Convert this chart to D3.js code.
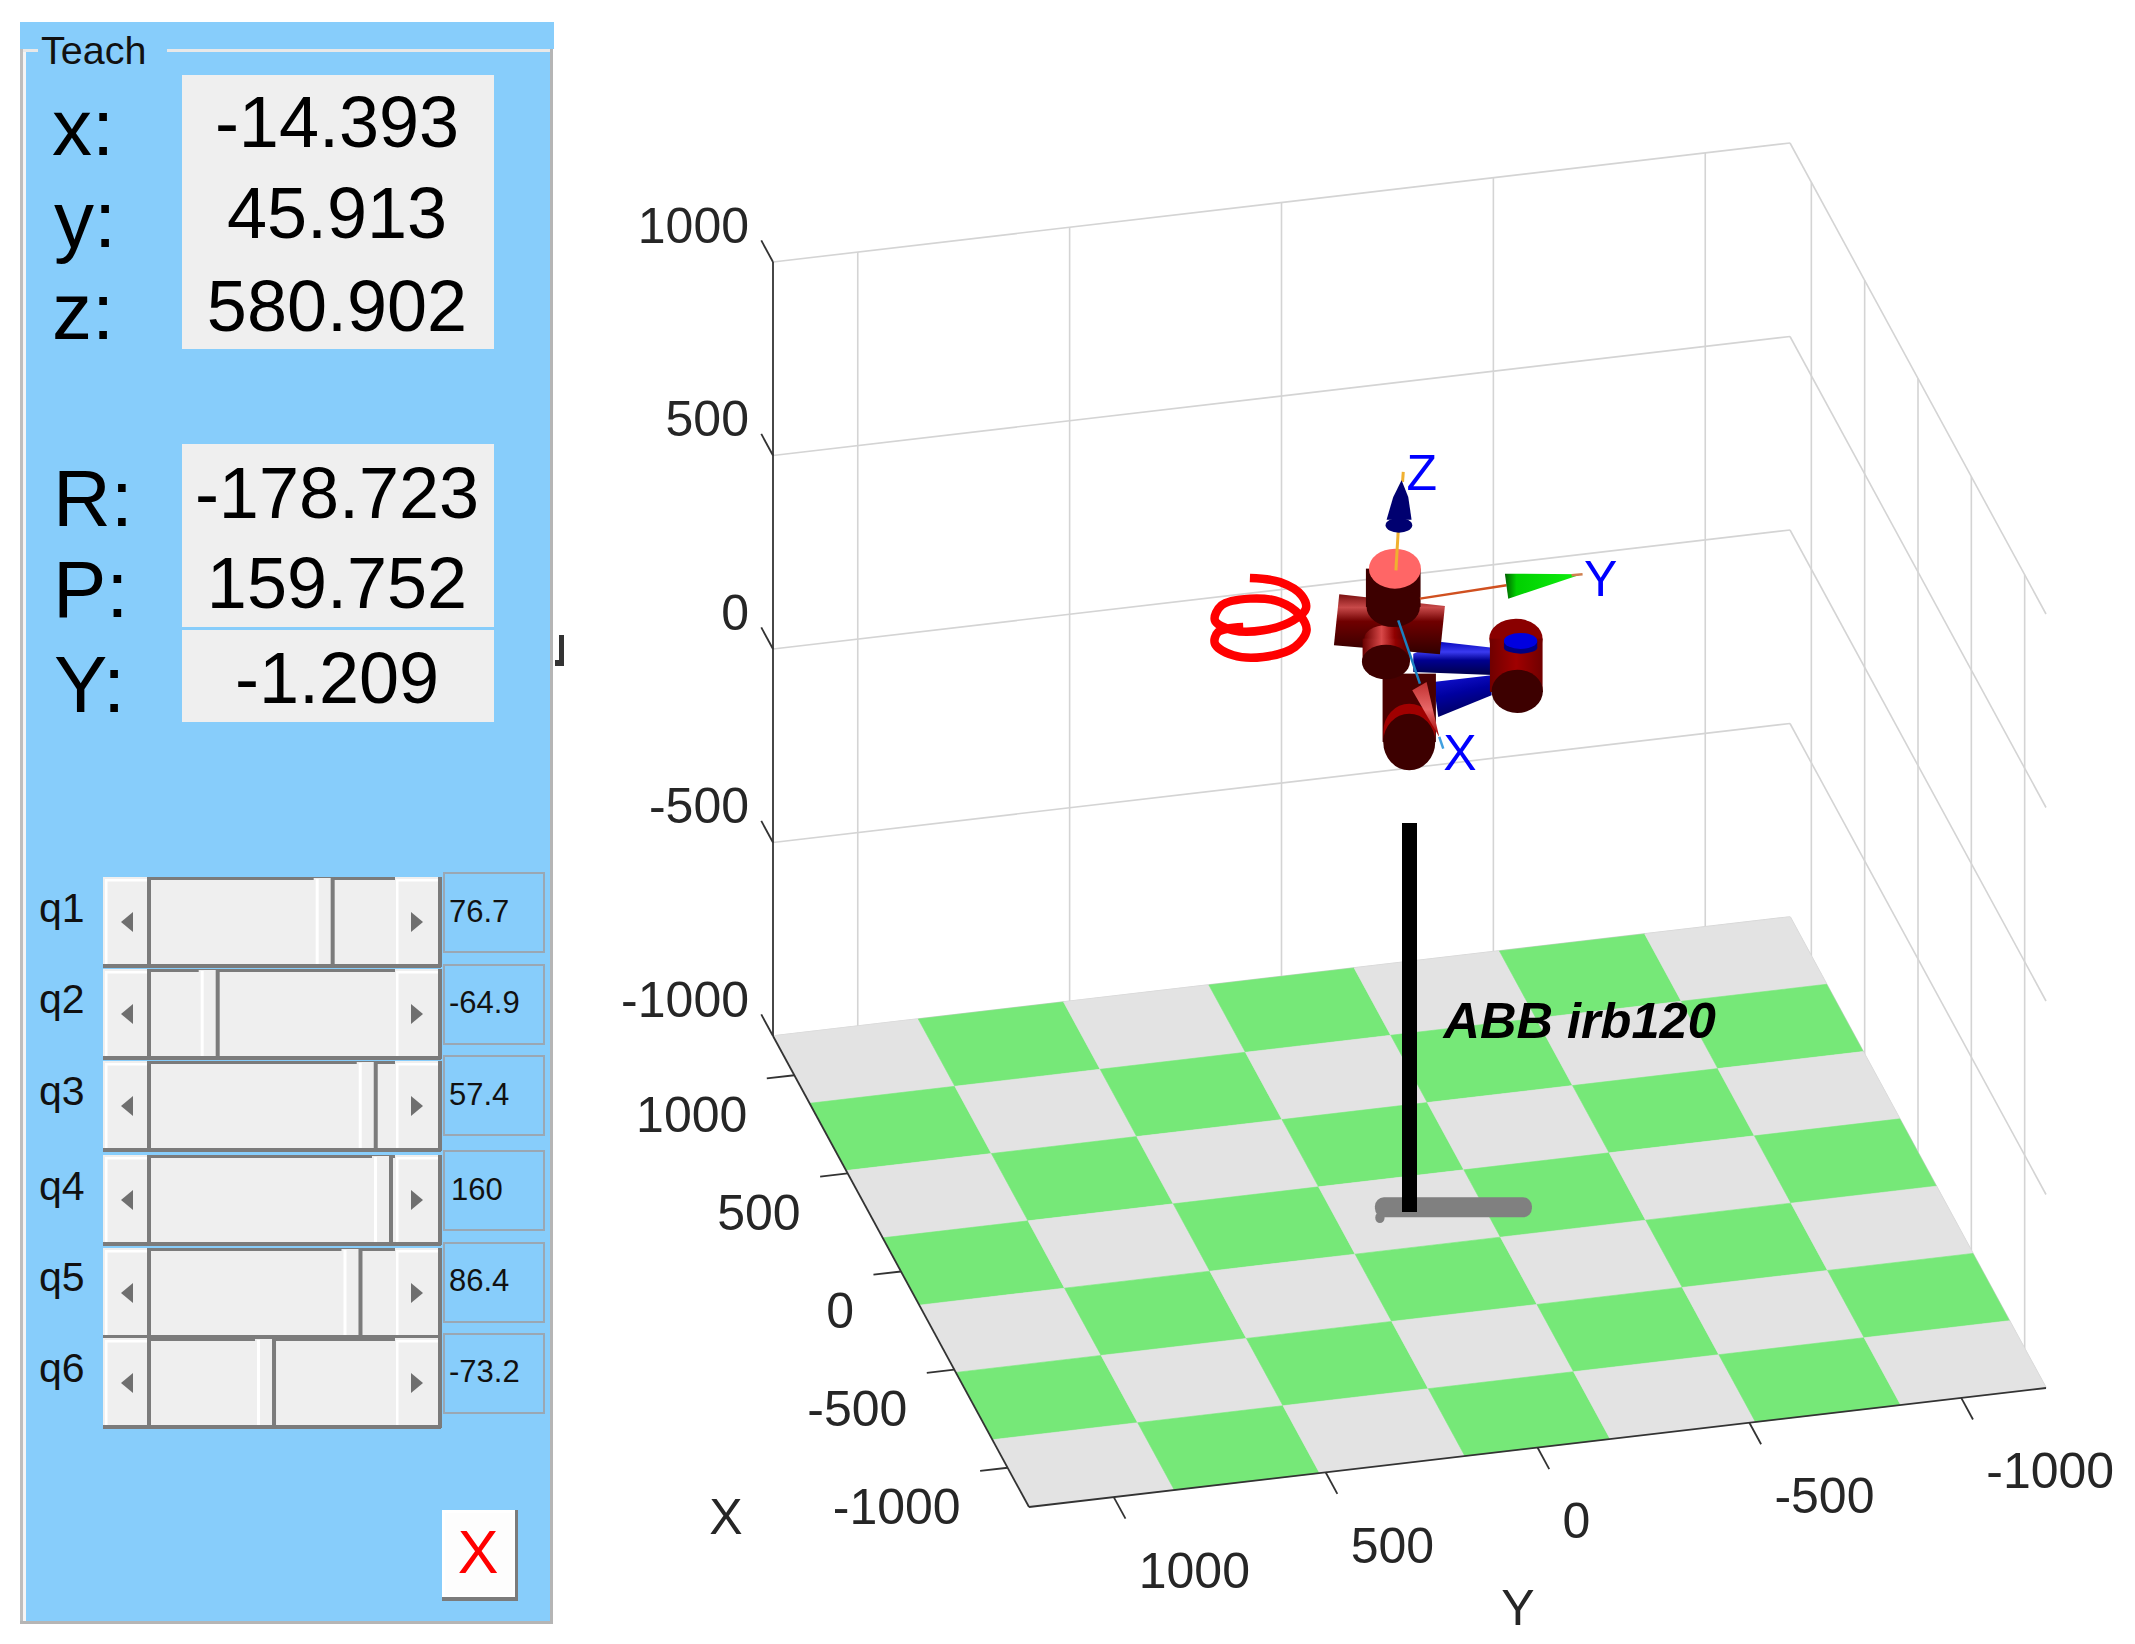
<!DOCTYPE html>
<html>
<head>
<meta charset="utf-8">
<style>
	html, body { margin: 0; padding: 0; background: #fff; }
	svg { display: block; }
	text { font-family: "Liberation Sans", Arial, sans-serif; }
</style>
<script src="https://cdn.jsdelivr.net/npm/d3@7"></script>
</head>
<body>
<svg id="chart" width="2135" height="1644"></svg>
<script>
// tool pose shown in the panel
var poseNames = ['x:', 'y:', 'z:', 'R:', 'P:', 'Y:'];
var poseValues = [-14.393, 45.913, 580.902, -178.723, 159.752, -1.209];

// joints and their slider limits
var jointNames = ['q1', 'q2', 'q3', 'q4', 'q5', 'q6'];
var jointValues = [76.7, -64.9, 57.4, 160, 86.4, -73.2];
var jointMin = [-165, -110, -110, -160, -120, -1000];
var jointMax = [165, 110, 70, 160, 120, 1000];

// axis ticks
var xTicks = [1000, 500, 0, -500, -1000];
var yTicks = [1000, 500, 0, -500, -1000];
var zTicks = [1000, 500, 0, -500, -1000];
var floorCells = d3.range(7);

// traced robot outlines, model frame pinned to the tool point
var spiral = [[210,443],[300,455],[365,495],[378,535],[340,570],[250,600],[160,600],[105,570],[125,525],[210,505],[300,515],[360,555],[380,600],[345,650],[250,680],[160,675],[105,640],[115,605],[190,590]];
var blueUpper = [[785,635],[965,655],[960,735],[700,725],[700,670]];
var blueLower = [[760,755],[935,735],[935,795],[775,860]];
var shoulder = [[478,492],[795,527],[780,672],[462,645]];
var zCone = [[665,150],[640,200],[620,268],[695,268],[685,200]];
var yCone = [[1205,432],[975,430],[985,505]];
var xCone = [[778,920],[697,780],[740,755]];

var svg = d3.select('#chart');
var defs = svg.append('defs');

function addGradient(id, x2, y2, stops) {
	var g = defs.append('linearGradient').attr('id', id)
		.attr('x1', 0).attr('y1', 0).attr('x2', x2).attr('y2', y2);
	stops.forEach(function(s) {
		g.append('stop').attr('offset', s[0]).attr('stop-color', s[1]);
	});
}
addGradient('blueBar', 0, 1, [[0, '#0a0ac0'], [0.3, '#3a3af0'], [0.55, '#000090'], [1, '#000048']]);
addGradient('blueBar2', 0.3, 1, [[0, '#1414d8'], [0.5, '#0000a0'], [1, '#000060']]);
addGradient('shoulderBar', 0, 1, [[0, '#7a1010'], [0.22, '#c84a4a'], [0.45, '#700000'], [1, '#300000']]);
addGradient('foreArm', 1, 0, [[0, '#6a0000'], [0.4, '#d84848'], [0.7, '#900000'], [1, '#500000']]);
addGradient('wristBody', 1, 0, [[0, '#700000'], [0.5, '#a00000'], [1, '#700000']]);
addGradient('greenCone', 1, 0, [[0, '#006000'], [0.15, '#00d000'], [1, '#10f010']]);
addGradient('redCone', 0, 1, [[0, '#c03030'], [0.5, '#e86868'], [1, '#a00000']]);

// ---------- 3D axes, orthographic view ----------
var xT = d3.scaleLinear().domain([1200, -1200]).range([0, 1]);
var yT = d3.scaleLinear().domain([1200, -1200]).range([0, 1]);
var zT = d3.scaleLinear().domain([-1000, 1000]).range([0, 1]);

function project(x, y, z) {
	return [
		773 + xT(x) * 256 + yT(y) * 1017,
		1036 + xT(x) * 471 - yT(y) * 119 - zT(z) * 774
	];
}

function segment(parent, a, b, color, width) {
	return parent.append('line')
		.attr('x1', a[0]).attr('y1', a[1])
		.attr('x2', b[0]).attr('y2', b[1])
		.attr('stroke', color).attr('stroke-width', width);
}

var plot = svg.append('g');
var gridColor = '#d4d4d4';

// back wall and side wall
yTicks.forEach(function(y) {
	segment(plot, project(1200, y, -1000), project(1200, y, 1000), gridColor, 1.6);
});
xTicks.forEach(function(x) {
	segment(plot, project(x, -1200, -1000), project(x, -1200, 1000), gridColor, 1.6);
});
zTicks.forEach(function(z) {
	segment(plot, project(1200, 1200, z), project(1200, -1200, z), gridColor, 1.6);
	segment(plot, project(1200, -1200, z), project(-1200, -1200, z), gridColor, 1.6);
});

// checkered floor
var cellX = d3.scaleLinear().domain([0, 7]).range([1200, -1200]);
var cellY = d3.scaleLinear().domain([0, 7]).range([1200, -1200]);
floorCells.forEach(function(i) {
	floorCells.forEach(function(j) {
		var pts = [
			project(cellX(i), cellY(j), -1000),
			project(cellX(i), cellY(j + 1), -1000),
			project(cellX(i + 1), cellY(j + 1), -1000),
			project(cellX(i + 1), cellY(j), -1000)
		];
		var color = (i + j) % 2 ? '#76e878' : '#e3e3e3';
		plot.append('polygon').attr('points', pts.join(' '))
			.attr('fill', color).attr('stroke', color).attr('stroke-width', 0.6);
	});
});

// axis lines, ticks and labels
var axisColor = '#333';
var labelColor = '#262626';
segment(plot, project(1200, 1200, -1000), project(1200, 1200, 1000), axisColor, 1.8);
segment(plot, project(1200, 1200, -1000), project(-1200, 1200, -1000), axisColor, 1.8);
segment(plot, project(-1200, 1200, -1000), project(-1200, -1200, -1000), axisColor, 1.8);

function tickLabel(text, pos, dx, dy, anchor) {
	plot.append('text')
		.attr('x', pos[0] + dx).attr('y', pos[1] + dy)
		.attr('dy', '.35em')
		.attr('text-anchor', anchor)
		.attr('font-size', 50)
		.attr('fill', labelColor)
		.text(text);
}

zTicks.forEach(function(z) {
	var p = project(1200, 1200, z);
	segment(plot, p, project(1310, 1200, z), axisColor, 1.8);
	tickLabel(String(z), p, -24, -37, 'end');
});
xTicks.forEach(function(x) {
	var p = project(x, 1200, -1000);
	segment(plot, p, project(x, 1265, -1000), axisColor, 1.8);
	tickLabel(String(x), p, -47, 39, 'end');
});
yTicks.forEach(function(y) {
	var p = project(-1200, y, -1000);
	segment(plot, p, project(-1310, y, -1000), axisColor, 1.8);
	tickLabel(String(y), p, 25, 73, 'start');
});
tickLabel('X', [726, 1516], 0, 0, 'middle');
tickLabel('Y', [1518, 1607], 0, 0, 'middle');

// ---------- robot ----------
var tool = project(poseValues[0], poseValues[1], poseValues[2]);
var mx = d3.scaleLinear().domain([635, 935]).range([tool[0], tool[0] + 100]);
var my = d3.scaleLinear().domain([525, 825]).range([tool[1], tool[1] + 100]);
var robot = svg.append('g');

function mapPts(pts) {
	return pts.map(function(p) { return [mx(p[0]), my(p[1])]; });
}
function poly(pts, fill) {
	robot.append('polygon').attr('points', mapPts(pts).join(' ')).attr('fill', fill);
}
function ell(cx, cy, rx, ry, fill) {
	robot.append('ellipse')
		.attr('cx', mx(cx)).attr('cy', my(cy))
		.attr('rx', rx / 3).attr('ry', ry / 3)
		.attr('fill', fill);
}
function bar(x0, y0, x1, y1, fill) {
	return robot.append('rect')
		.attr('x', mx(x0)).attr('y', my(y0))
		.attr('width', mx(x1) - mx(x0)).attr('height', my(y1) - my(y0))
		.attr('fill', fill);
}
function triadLine(a, b, color, width) {
	var m = mapPts([a, b]);
	segment(robot, m[0], m[1], color, width);
}

// pole and foot
bar(585, 2301, 1056, 2361, '#808080').attr('rx', 9);
ell(600, 2362, 14, 16, '#808080');
segment(robot, project(0, 0, -1000), project(0, 0, 5), '#000', 15);
robot.append('text')
	.attr('x', project(0, 0, -550)[0] + 34)
	.attr('y', project(0, 0, -550)[1])
	.attr('font-size', 50.5)
	.attr('font-weight', 'bold')
	.attr('font-style', 'italic')
	.attr('fill', '#000')
	.text('ABB irb120');

// trajectory
robot.append('path')
	.attr('d', d3.line().curve(d3.curveCatmullRom)(mapPts(spiral)))
	.attr('fill', 'none').attr('stroke', '#f00').attr('stroke-width', 8.5);

poly(blueUpper, 'url(#blueBar)');
poly(blueLower, 'url(#blueBar2)');

// wrist
ell(1008, 625, 80, 60, '#8a0000');
bar(930, 625, 1088, 785, 'url(#wristBody)');
ell(1012, 783, 77, 65, '#3d0000');
bar(972, 632, 1072, 652, '#000080');
ell(1022, 652, 50, 18, '#000080');
ell(1022, 632, 50, 24, '#0000e0');

// lower arm
bar(608, 730, 768, 935, '#4a0000');
ell(688, 905, 78, 85, '#a00000');
ell(688, 935, 78, 85, '#3d0000');

// shoulder and upper joint
poly(shoulder, 'url(#shoulderBar)');
ell(618, 625, 65, 40, 'url(#foreArm)');
bar(548, 625, 690, 695, 'url(#foreArm)');
ell(618, 695, 72, 52, '#3d0000');
bar(558, 415, 722, 530, '#3d0000');
ell(640, 530, 80, 60, '#3d0000');
ell(645, 415, 78, 60, '#ff6666');

// tool frame
triadLine([648, 420], [655, 300], '#f0b030', 3);
triadLine([670, 125], [668, 155], '#f0b030', 3);
poly(zCone, '#000070');
ell(657, 285, 40, 22, '#000070');
triadLine([720, 505], [980, 465], '#d05020', 2.5);
poly(yCone, 'url(#greenCone)');
triadLine([1175, 435], [1208, 432], '#d08050', 2.5);
triadLine([655, 570], [720, 760], '#1a80c0', 2.5);
poly(xCone, 'url(#redCone)');
triadLine([778, 920], [790, 955], '#40a0e0', 2.5);

[['Z', 680, 178], ['Y', 1212, 497], ['X', 790, 1020]].forEach(function(d) {
	robot.append('text')
		.attr('x', mx(d[1])).attr('y', my(d[2]))
		.attr('font-size', 50).attr('fill', '#00f')
		.text(d[0]);
});

// ---------- teach panel ----------
var panel = svg.append('g');
var panelBlue = '#87cdfb';

function rect(x, y, w, h, fill) {
	return panel.append('rect')
		.attr('x', x).attr('y', y)
		.attr('width', w).attr('height', h)
		.attr('fill', fill);
}
function label(text, x, y, size, anchor, color) {
	return panel.append('text')
		.attr('x', x).attr('y', y)
		.attr('font-size', size)
		.attr('text-anchor', anchor || 'start')
		.attr('fill', color || '#000')
		.text(text);
}

rect(20, 22, 534, 27, panelBlue);
rect(23, 49, 528, 1573, panelBlue);
rect(20, 49, 3, 1575, '#bdbdbd');
rect(23, 49, 3, 1573, '#f4f4f4');
rect(23, 49, 528, 3, '#e8e8e8');
rect(550, 49, 3, 1575, '#b5b5b5');
rect(20, 1621, 533, 3, '#b5b5b5');
rect(38, 40, 129, 14, panelBlue);
label('Teach', 41, 64, 39.5, 'start', '#111');

// pose readouts
rect(182, 75, 312, 274, '#efefef');
rect(182, 444, 312, 183, '#efefef');
rect(182, 630, 312, 92, '#efefef');
var poseLabelX = [52, 54, 52, 53, 53, 54];
var poseLabelBase = [155, 247, 339, 526, 617, 712];
var poseValueBase = [147, 238, 331, 518, 608, 703];
poseNames.forEach(function(name, i) {
	label(name, poseLabelX[i], poseLabelBase[i], 80);
	label(poseValues[i].toFixed(3), 337, poseValueBase[i], 72, 'middle');
});

// stray glyph next to the panel
rect(559, 635, 5, 31, '#333');
rect(555, 660, 9, 6, '#333');

// joint sliders
var sliderTops = [877, 969, 1061, 1155, 1248, 1338];
var boxTops = [872, 964, 1055, 1150, 1242, 1333];
var sliderBase = [922, 1013, 1105, 1200, 1291, 1382];
var shade = '#7b7b7b';

function arrow(points) {
	panel.append('polygon').attr('points', points.join(' ')).attr('fill', '#6f6f6f');
}

jointNames.forEach(function(name, i) {
	var top = sliderTops[i];
	var thumb = d3.scaleLinear().domain([jointMin[i], jointMax[i]]).range([153, 371]);
	var tx = thumb(jointValues[i]);
	var mid = top + 45;

	label(name, 39, sliderBase[i], 41, 'start', '#111');

	rect(103, top, 338, 90, '#efefef');
	rect(150, top, 245, 3, shade);
	rect(103, top + 87, 338, 4, shade);
	// end buttons
	rect(105, top + 2, 44, 2.5, '#fff');
	rect(105, top + 2, 2.5, 85, '#fff');
	rect(147, top, 4, 90, shade);
	rect(396, top + 2, 43, 2.5, '#fff');
	rect(396, top + 2, 2.5, 85, '#fff');
	rect(438, top, 4, 90, shade);
	// thumb
	rect(tx + 1, top + 1, 20, 86, '#efefef');
	rect(tx + 3, top + 2, 3, 85, '#fff');
	rect(tx + 18, top, 4, 90, shade);

	arrow([[121, mid], [133, mid - 10], [133, mid + 10]]);
	arrow([[411, mid - 10], [423, mid], [411, mid + 10]]);

	panel.append('rect')
		.attr('x', 444).attr('y', boxTops[i] + 1)
		.attr('width', 100).attr('height', 79)
		.attr('fill', 'none').attr('stroke', '#9aa7b3').attr('stroke-width', 2);
	label(String(jointValues[i]), jointValues[i] === 160 ? 451 : 449, sliderBase[i], 31, 'start', '#111');
});

// close button
rect(442, 1510, 76, 91, shade);
rect(442, 1510, 73, 87, '#fff');
rect(445, 1513, 68, 82, '#fdfdfd');
label('X', 478, 1573, 61, 'middle', '#f00');
</script>
</body>
</html>
